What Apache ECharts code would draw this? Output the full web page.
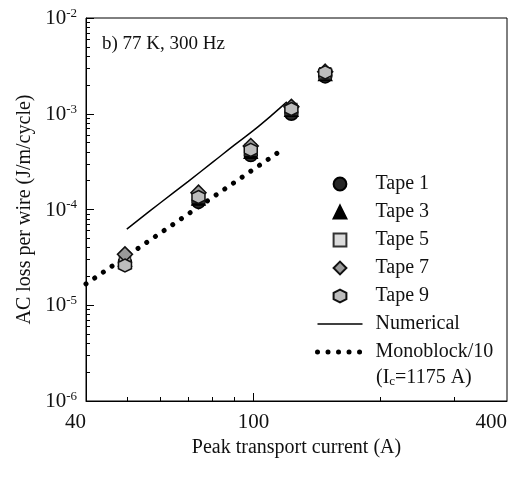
<!DOCTYPE html>
<html>
<head>
<meta charset="utf-8">
<script src="https://cdn.jsdelivr.net/npm/echarts@6/dist/echarts.min.js"></script>
<style>
  html, body { margin: 0; padding: 0; background: #fff; }
  #mains { width: 530px; height: 477px; }
</style>
</head>
<body>
<div id="mains"></div>
<script>
// peak transport current (A) of the measured points
const currentA = [49.5, 74, 98.5, 123, 148];
// AC loss per wire (J/m/cycle)
const tape1 = [2.8e-5, 1.2e-4, 3.7e-4, 1.0e-3, 2.45e-3];
const tape3 = [3.0e-5, 1.3e-4, 4.0e-4, 1.1e-3, 2.6e-3];
const tape5 = [3.0e-5, 1.35e-4, 4.2e-4, 1.12e-3, 2.65e-3];
const tape7 = [3.4e-5, 1.5e-4, 4.6e-4, 1.18e-3, 2.75e-3];
const tape9 = [2.6e-5, 1.35e-4, 4.2e-4, 1.12e-3, 2.7e-3];
// numerical curve
const numCurrent = [50, 60, 70, 80, 90, 100, 110, 120];
const numLoss = [6.25e-5, 1.17e-4, 1.97e-4, 3.12e-4, 4.7e-4, 6.7e-4, 9.5e-4, 1.33e-3];
// monoblock/10 (straight in log-log)
const monoCurrent = [40, 114];
const monoLoss = [1.67e-5, 3.9e-4];
// axis ticks
const xLabelValues = [40, 100, 400];
const xMajorTicks = [100];
const xMinorTicks = [50, 60, 70, 80, 90, 200, 300];
const yDecades = [1e-6, 1e-5, 1e-4, 1e-3, 1e-2];

const yMinorTicks = [];
for (let d = 0; d < yDecades.length - 1; d++) {
  for (let k = 2; k <= 9; k++) {
    yMinorTicks.push(k * yDecades[d]);
  }
}

const FONT = "Liberation Serif";
const pair = (xs, ys) => xs.map((x, i) => [x, ys[i]]);
const hexagon = "path://M0,-10 L8.66,-5 L8.66,5 L0,10 L-8.66,5 L-8.66,-5 Z";
const noMark = { color: "rgba(0,0,0,0)", borderColor: "rgba(0,0,0,0)", borderWidth: 0 };
const dotted = { color: "#000", width: 5, type: [0.01, 10.5], cap: "round" };

const chart = echarts.init(document.getElementById("mains"));

// tapes are drawn as line series with no visible line, so the legend icon keeps its aspect
function tapeSeries(name, data, symbol, size, fill, border) {
  return {
    name: name,
    type: "line",
    data: pair(currentA, data),
    symbol: symbol,
    symbolSize: size,
    showSymbol: true,
    lineStyle: { width: 0, opacity: 0 },
    itemStyle: {
      color: fill,
      borderColor: border,
      borderWidth: 1.5,
      opacity: 1,
    },
    z: 3,
  };
}

chart.setOption({
  animation: false,
  title: {
    text: "b) 77 K, 300 Hz",
    left: 97,
    top: 30,
    textStyle: {
      fontFamily: FONT,
      fontWeight: "normal",
      fontSize: 19,
      color: "#111",
    },
  },
  grid: {
    left: 86,
    right: 23,
    top: 18,
    bottom: 76,
    show: true,
    borderColor: "#000",
    borderWidth: 1,
  },
  legend: {
    orient: "vertical",
    left: 310,
    top: 168,
    itemWidth: 45,
    itemHeight: 16,
    itemGap: 6,
    data: [
      "Tape 1", "Tape 3", "Tape 5", "Tape 7", "Tape 9",
      { name: "Numerical", itemStyle: noMark, lineStyle: { color: "#000", width: 1.5 } },
      { name: "Monoblock/10", itemStyle: noMark, lineStyle: dotted },
    ],
    textStyle: {
      fontFamily: FONT,
      fontSize: 20,
      color: "#111",
      lineHeight: 22,
      padding: [0, 0, 0, 8],
    },
  },
  xAxis: [
    {
      type: "log",
      min: 40,
      max: 400,
      position: "bottom",
      name: "Peak transport current (A)",
      nameLocation: "middle",
      nameGap: 30,
      nameTextStyle: { fontFamily: FONT, fontSize: 20, color: "#111" },
      axisLine: { show: true, lineStyle: { color: "#000", width: 1 } },
      axisTick: { show: true, inside: true, length: 8, customValues: xMajorTicks, lineStyle: { color: "#000" } },
      axisLabel: {
        customValues: xLabelValues,
        margin: 11,
        fontFamily: FONT,
        fontSize: 21,
        color: "#111",
        alignMinLabel: "right",
        alignMaxLabel: "right",
        formatter: (v) => String(Math.round(v)),
      },
      splitLine: { show: false },
    },
    {
      type: "log",
      min: 40,
      max: 400,
      position: "bottom",
      axisLine: { show: false },
      axisTick: { show: true, inside: true, length: 4, customValues: xMinorTicks, lineStyle: { color: "#000" } },
      axisLabel: { show: false },
      splitLine: { show: false },
    },
  ],
  yAxis: [
    {
      type: "log",
      min: 1e-6,
      max: 1e-2,
      position: "left",
      name: "AC loss per wire (J/m/cycle)",
      nameLocation: "middle",
      nameRotate: 90,
      nameGap: 45,
      nameTextStyle: { fontFamily: FONT, fontSize: 20, color: "#111" },
      axisLine: { show: true, lineStyle: { color: "#000", width: 1 } },
      axisTick: { show: true, inside: true, length: 8, customValues: yDecades, lineStyle: { color: "#000" } },
      axisLabel: {
        customValues: yDecades,
        margin: 9,
        formatter: (v) => "{b|10}{s|" + Math.round(Math.log10(v)) + "}",
        rich: {
          b: { fontFamily: FONT, fontSize: 21, color: "#111", lineHeight: 22, verticalAlign: "bottom" },
          s: { fontFamily: FONT, fontSize: 13, color: "#111", lineHeight: 13, verticalAlign: "top" },
        },
      },
      splitLine: { show: false },
    },
    {
      type: "log",
      min: 1e-6,
      max: 1e-2,
      position: "left",
      axisLine: { show: false },
      axisTick: { show: true, inside: true, length: 4, customValues: yMinorTicks, lineStyle: { color: "#000" } },
      axisLabel: { show: false },
      splitLine: { show: false },
    },
  ],
  series: [
    {
      name: "Numerical",
      type: "line",
      data: pair(numCurrent, numLoss),
      symbol: "none",
      smooth: 0.4,
      lineStyle: { color: "#000", width: 1.5 },
      itemStyle: { color: "#000" },
      z: 2,
    },
    {
      name: "Monoblock/10",
      type: "line",
      data: pair(monoCurrent, monoLoss),
      symbol: "none",
      lineStyle: dotted,
      itemStyle: { color: "#000" },
      z: 2,
    },
    tapeSeries("Tape 1", tape1, "circle", 13, "#262626", "#000"),
    tapeSeries("Tape 3", tape3, "triangle", 13, "#000", "#000"),
    tapeSeries("Tape 5", tape5, "rect", 11, "#dcdcdc", "#333"),
    tapeSeries("Tape 7", tape7, "diamond", 15, "#9a9a9a", "#111"),
    tapeSeries("Tape 9", tape9, hexagon, 13, "#bdbdbd", "#111"),
  ],
  graphic: [
    {
      type: "text",
      left: 376,
      top: 368,
      style: {
        text: "(I{sub|c}=1175 A)",
        fontFamily: FONT,
        fontSize: 20,
        fill: "#111",
        rich: {
          sub: { fontFamily: FONT, fontSize: 13, fill: "#111", verticalAlign: "bottom", padding: [8, 0, 0, 0] },
        },
      },
    },
  ],
});
</script>
</body>
</html>
